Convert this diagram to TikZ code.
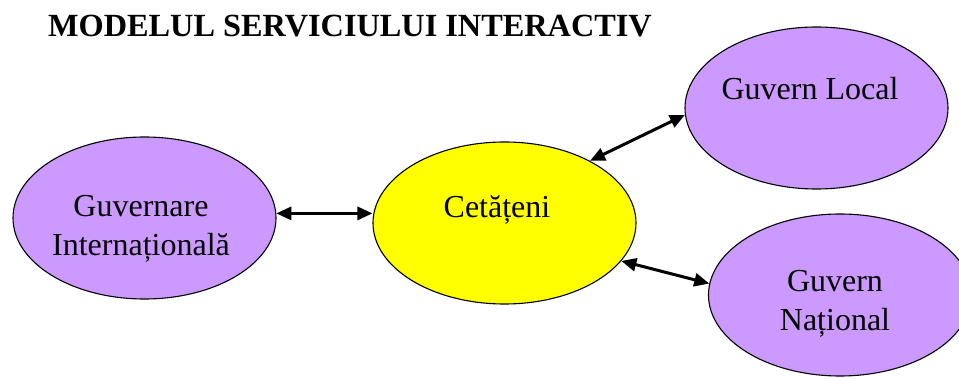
\documentclass[tikz,border=0pt]{standalone}
\usepackage{fontspec}
\setmainfont{Liberation Serif}
\usetikzlibrary{shapes.geometric,arrows.meta}
\definecolor{lilac}{HTML}{CC99FF}
\definecolor{citizen}{HTML}{FFFF00}
\tikzset{
  bubble/.style={ellipse, draw=black, line width=1.1pt, minimum width=263pt,
    minimum height=162pt, inner sep=0pt},
  govt/.style={bubble, fill=lilac},
  people/.style={bubble, fill=citizen},
  caption/.style={font=\fontsize{32}{39}\selectfont, align=center, inner sep=0pt},
  link/.style={line width=3pt, {Triangle[length=15pt,width=13pt]}-{Triangle[length=15pt,width=13pt]}}
}
\begin{document}
\begin{tikzpicture}[x=1pt,y=-1pt]
  \clip (0,0) rectangle (959,379);
  \fill[white] (0,0) rectangle (959,379);

  % title
  \node[anchor=base west, inner sep=0pt, font=\bfseries\fontsize{32.3}{36}\selectfont]
    (title) at (48,37) {MODELUL SERVICIULUI INTERACTIV};

  % actors
  \node[govt]   (intl) at (144.5,218) {};
  \node[people] (cet)  at (504.5,223) {};
  \node[govt]   (loc)  at (816.5,108) {};
  \node[govt]   (nat)  at (840,295)   {};

  % their names
  \node[caption] (intl-t) at (141,229) {Guvernare\\Internațională};
  \node[caption] (cet-t)  at (497,210) {Cetățeni};
  \node[caption] (loc-t)  at (810,89)  {Guvern Local};
  \node[caption] (nat-t)  at (835,304) {Guvern\\Național};

  % two-way links
  \draw[link] (intl.2.6) -- (intl.2.6 -| cet.west);
  \draw[link] (cet.36.2) -- (loc.183);
  \draw[link] (cet.-18.8) -- (nat.175.6);
\end{tikzpicture}
\end{document}
